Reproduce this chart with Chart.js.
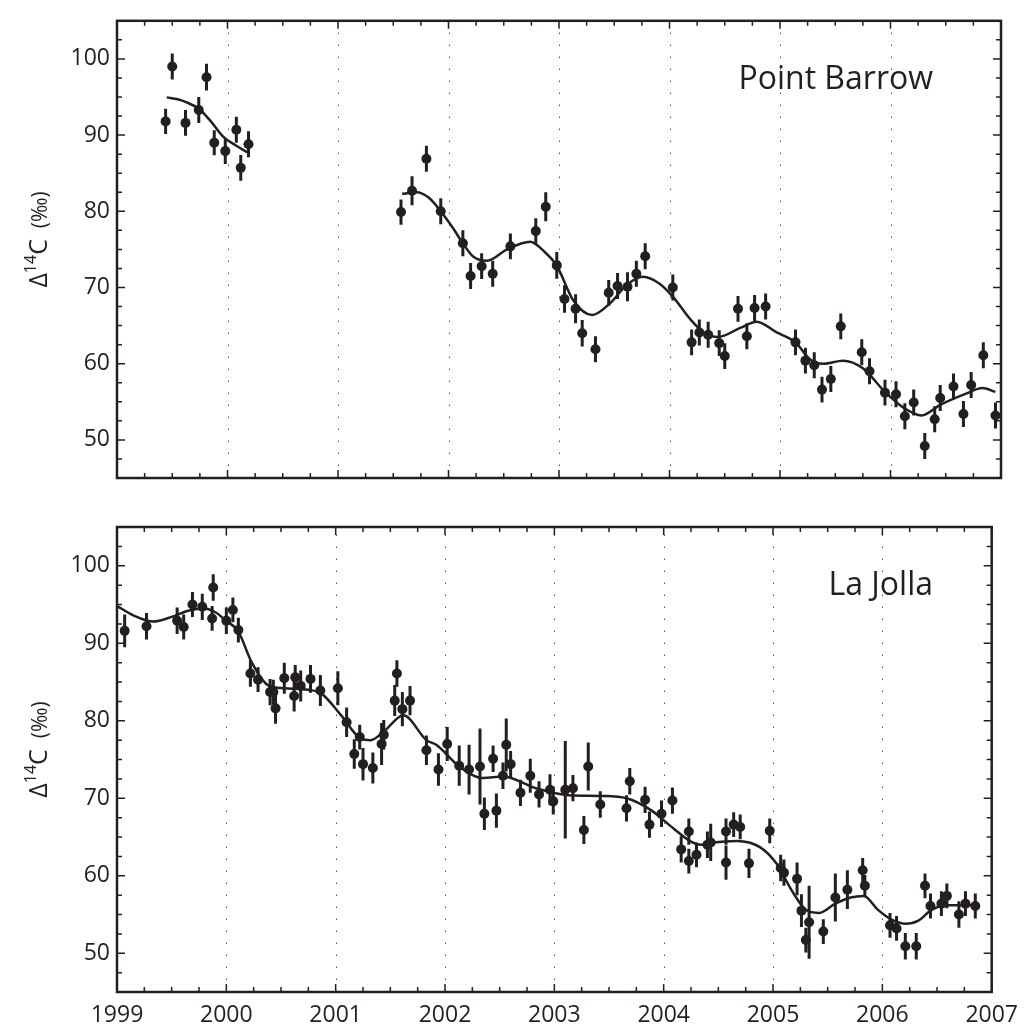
<!DOCTYPE html>
<html>
<head>
<meta charset="utf-8">
<script src="https://cdn.jsdelivr.net/npm/chart.js@4.4.1/dist/chart.umd.min.js"></script>
<style>
  body { margin: 0; background: #fff; }
  #wrap { position: relative; width: 1028px; height: 1029px; }
  #wrap canvas { position: absolute; left: 0; }
</style>
</head>
<body>
<div id="wrap">
  <canvas id="barrow" width="1028" height="500" style="top:0"></canvas>
  <canvas id="jolla" width="1028" height="529" style="top:500px"></canvas>
</div>
<script>
var INK = '#231f20';
Chart.defaults.font.family = "'Open Sans', 'DejaVu Sans', sans-serif";
Chart.defaults.color = INK;

// axis ticks
var yearTicks = [1999, 2000, 2001, 2002, 2003, 2004, 2005, 2006, 2007];
var d14cTicks = [50, 60, 70, 80, 90, 100];

// Point Barrow flask measurements (year, D14C permil, 1-sigma)
var pbYear = [1999.44, 1999.50, 1999.62, 1999.74, 1999.81, 1999.88, 1999.98, 2000.08, 2000.12, 2000.19,
  2001.57, 2001.67, 2001.80, 2001.93, 2002.13, 2002.20, 2002.30, 2002.40, 2002.56, 2002.79,
  2002.88, 2002.98, 2003.05, 2003.15, 2003.21, 2003.33, 2003.45, 2003.53, 2003.62, 2003.70,
  2003.78, 2004.03, 2004.20, 2004.27, 2004.35, 2004.45, 2004.50, 2004.62, 2004.70, 2004.77,
  2004.87, 2005.14, 2005.23, 2005.31, 2005.38, 2005.46, 2005.55, 2005.74, 2005.81, 2005.95,
  2006.05, 2006.13, 2006.21, 2006.31, 2006.40, 2006.45, 2006.57, 2006.66, 2006.73, 2006.84,
  2006.95];
var pbD14C = [91.8, 99.0, 91.6, 93.3, 97.6, 89.0, 87.9, 90.7, 85.7, 88.8,
  79.9, 82.7, 86.9, 80.0, 75.8, 71.5, 72.8, 71.8, 75.4, 77.4,
  80.6, 72.9, 68.5, 67.2, 64.0, 61.9, 69.3, 70.2, 70.1, 71.8,
  74.1, 70.0, 62.8, 64.1, 63.8, 62.7, 61.0, 67.2, 63.6, 67.3,
  67.5, 62.8, 60.4, 59.8, 56.6, 58.0, 64.9, 61.5, 59.0, 56.2,
  56.0, 53.1, 54.9, 49.2, 52.7, 55.5, 57.0, 53.4, 57.2, 61.1,
  53.2];
var pbErr = [1.65, 1.7, 1.7, 1.7, 1.75, 1.65, 1.7, 1.7, 1.7, 1.7,
  1.65, 1.9, 1.7, 1.7, 1.7, 1.7, 1.7, 1.7, 1.7, 1.7,
  1.9, 1.75, 1.8, 1.9, 1.75, 1.7, 1.7, 1.7, 1.9, 1.7,
  1.7, 1.7, 1.7, 1.7, 1.7, 1.7, 1.7, 1.7, 1.7, 1.7,
  1.7, 1.7, 1.7, 1.7, 1.7, 1.7, 1.7, 1.7, 1.7, 1.7,
  1.7, 1.7, 1.7, 1.7, 1.7, 1.7, 1.7, 1.7, 1.7, 1.7,
  1.7];
// smooth fit, two record segments
var pbFitYearA = [1999.45, 1999.55, 1999.63, 1999.74, 1999.84, 1999.96, 2000.08, 2000.19];
var pbFitA = [94.95, 94.7, 94.3, 93.45, 91.96, 89.8, 88.6, 87.66];
var pbFitYearB = [2001.58, 2001.71, 2001.82, 2001.93, 2002.04, 2002.13, 2002.22, 2002.35, 2002.53, 2002.74,
  2002.86, 2002.98, 2003.13, 2003.30, 2003.46, 2003.61, 2003.76, 2003.91, 2004.03, 2004.19,
  2004.31, 2004.44, 2004.64, 2004.79, 2004.97, 2005.14, 2005.27, 2005.39, 2005.57, 2005.75,
  2005.95, 2006.12, 2006.28, 2006.45, 2006.69, 2006.83, 2006.95];
var pbFitB = [82.3, 82.5, 81.8, 80.0, 77.8, 75.8, 74.1, 73.5, 75.0, 76.0,
  74.8, 72.85, 68.3, 66.4, 67.9, 70.3, 71.4, 70.5, 68.8, 65.8,
  64.1, 63.5, 64.7, 65.5, 64.1, 62.8, 60.6, 60.0, 60.4, 59.4,
  56.3, 54.2, 53.2, 54.6, 56.1, 56.8, 56.3];

// La Jolla
var ljYear = [1999.07, 1999.27, 1999.55, 1999.61, 1999.69, 1999.78, 1999.87, 1999.88, 2000.00, 2000.06,
  2000.11, 2000.22, 2000.29, 2000.40, 2000.43, 2000.45, 2000.53, 2000.62, 2000.63, 2000.68,
  2000.77, 2000.86, 2001.02, 2001.10, 2001.17, 2001.22, 2001.25, 2001.34, 2001.42, 2001.44,
  2001.54, 2001.56, 2001.61, 2001.68, 2001.83, 2001.94, 2002.02, 2002.13, 2002.22, 2002.32,
  2002.36, 2002.44, 2002.47, 2002.53, 2002.56, 2002.60, 2002.69, 2002.78, 2002.86, 2002.96,
  2002.99, 2003.10, 2003.17, 2003.27, 2003.31, 2003.42, 2003.66, 2003.69, 2003.83, 2003.87,
  2003.98, 2004.08, 2004.16, 2004.23, 2004.23, 2004.30, 2004.40, 2004.43, 2004.57, 2004.57,
  2004.64, 2004.70, 2004.78, 2004.97, 2005.07, 2005.10, 2005.22, 2005.26, 2005.30, 2005.33,
  2005.46, 2005.57, 2005.68, 2005.82, 2005.84, 2006.07, 2006.13, 2006.21, 2006.31, 2006.39,
  2006.44, 2006.54, 2006.59, 2006.70, 2006.76, 2006.85];
var ljD14C = [91.6, 92.2, 92.9, 92.1, 95.0, 94.7, 93.2, 97.2, 92.9, 94.3,
  91.7, 86.1, 85.3, 83.7, 83.7, 81.6, 85.5, 83.2, 85.6, 84.5,
  85.4, 83.9, 84.2, 79.8, 75.7, 77.9, 74.4, 73.9, 77.0, 78.2,
  82.6, 86.1, 81.5, 82.6, 76.2, 73.7, 77.0, 74.2, 73.7, 74.1,
  68.0, 75.1, 68.4, 72.9, 76.9, 74.4, 70.7, 72.9, 70.5, 71.1,
  69.6, 71.1, 71.3, 65.9, 74.1, 69.2, 68.7, 72.2, 69.8, 66.6,
  68.0, 69.7, 63.4, 65.7, 61.9, 62.7, 64.0, 64.3, 65.7, 61.7,
  66.6, 66.3, 61.6, 65.8, 61.0, 60.4, 59.6, 55.5, 51.7, 54.0,
  52.8, 57.2, 58.2, 60.7, 58.7, 53.6, 53.2, 50.9, 50.9, 58.7,
  56.1, 56.4, 57.4, 55.0, 56.4, 56.1];
var ljErr = [2.1, 1.7, 1.7, 1.6, 1.6, 1.7, 1.6, 1.7, 1.7, 1.6,
  1.6, 1.7, 1.6, 1.7, 1.6, 2.0, 2.0, 2.0, 1.6, 2.0,
  1.8, 2.0, 2.2, 1.9, 1.9, 1.6, 2.1, 2.0, 2.7, 1.9,
  2.0, 1.7, 2.2, 1.9, 1.9, 2.1, 2.2, 2.6, 3.2, 4.9,
  2.1, 1.7, 2.2, 1.7, 3.4, 1.7, 1.7, 2.2, 1.7, 2.0,
  1.7, 6.3, 1.7, 1.8, 3.1, 1.7, 1.7, 1.7, 1.7, 1.7,
  1.7, 1.7, 1.7, 1.7, 1.6, 1.6, 1.7, 2.4, 1.7, 2.2,
  1.6, 1.6, 1.9, 1.6, 1.7, 1.7, 2.1, 2.1, 1.6, 4.7,
  1.6, 3.1, 2.5, 1.6, 1.4, 1.6, 1.6, 1.7, 1.7, 1.6,
  1.6, 1.6, 1.6, 1.7, 1.6, 1.6];
var ljFitYear = [1999.00, 1999.15, 1999.33, 1999.50, 1999.65, 1999.80, 1999.90, 1999.99, 2000.11, 2000.23,
  2000.38, 2000.53, 2000.75, 2000.87, 2001.05, 2001.23, 2001.32, 2001.44, 2001.62, 2001.83,
  2001.92, 2002.13, 2002.35, 2002.53, 2002.83, 2003.13, 2003.43, 2003.66, 2003.88, 2004.09,
  2004.25, 2004.34, 2004.45, 2004.67, 2004.88, 2005.03, 2005.18, 2005.30, 2005.42, 2005.57,
  2005.71, 2005.83, 2005.96, 2006.09, 2006.21, 2006.33, 2006.45, 2006.60, 2006.87];
var ljFit = [94.8, 93.6, 92.8, 93.4, 94.2, 94.5, 94.0, 93.0, 91.5, 87.6,
  84.6, 84.2, 84.0, 83.5, 80.7, 77.7, 77.5, 78.6, 80.7, 77.5,
  76.9, 74.1, 72.6, 72.8, 71.3, 70.4, 70.3, 70.0, 68.5, 66.1,
  64.4, 64.0, 64.3, 64.5, 63.7, 61.6, 57.9, 55.6, 55.2, 56.4,
  57.2, 57.4, 55.6, 54.3, 53.8, 54.2, 55.6, 56.2, 56.2];

function pairs(xs, ys) {
  return xs.map(function (x, i) { return { x: x, y: ys[i] }; });
}

// vertical error bars for every dataset carrying an `errors` array
var errorBars = {
  id: 'errorBars',
  beforeDatasetsDraw: function (chart) {
    var ys = chart.scales.y, ctx = chart.ctx;
    ctx.save();
    ctx.strokeStyle = INK;
    ctx.lineWidth = 3;
    chart.data.datasets.forEach(function (ds, di) {
      if (!ds.errors) return;
      var meta = chart.getDatasetMeta(di);
      ctx.beginPath();
      ds.data.forEach(function (p, i) {
        var px = meta.data[i].x;
        ctx.moveTo(px, ys.getPixelForValue(p.y - ds.errors[i]));
        ctx.lineTo(px, ys.getPixelForValue(p.y + ds.errors[i]));
      });
      ctx.stroke();
    });
    ctx.restore();
  }
};

function drawYTitle(ctx, cx, cy) {
  var parts = [
    { t: '\u0394', font: "25px 'Open Sans'", dy: 0 },
    { t: '14', font: "16px 'Open Sans'", dy: -11 },
    { t: 'C', font: "25px 'Open Sans'", dy: 0 },
    { t: '  (\u2030)', font: "21px 'Open Sans'", dy: 0 }
  ];
  ctx.save();
  ctx.translate(cx, cy);
  ctx.rotate(-Math.PI / 2);
  ctx.fillStyle = INK;
  ctx.textAlign = 'left';
  ctx.textBaseline = 'alphabetic';
  var total = 0;
  parts.forEach(function (p) { ctx.font = p.font; p.w = ctx.measureText(p.t).width; total += p.w; });
  var x = -total / 2;
  parts.forEach(function (p) { ctx.font = p.font; ctx.fillText(p.t, x, p.dy); x += p.w; });
  ctx.restore();
}

// box frame, inward ticks on all sides, dotted year lines, panel name
var frame = {
  id: 'frame',
  beforeDatasetsDraw: function (chart) {
    var a = chart.chartArea, xs = chart.scales.x, ctx = chart.ctx;
    ctx.save();
    ctx.strokeStyle = '#555';
    ctx.lineWidth = 1;
    ctx.setLineDash([1.5, 10.5]);
    yearTicks.slice(1, -1).forEach(function (yr) {
      var px = Math.round(xs.getPixelForValue(yr)) + 0.5;
      ctx.beginPath();
      ctx.moveTo(px, a.bottom);
      ctx.lineTo(px, a.top);
      ctx.stroke();
    });
    ctx.restore();
  },
  afterDraw: function (chart, args, opts) {
    var a = chart.chartArea, xs = chart.scales.x, ys = chart.scales.y, ctx = chart.ctx;
    var q, v, px, py, len;
    ctx.save();
    ctx.strokeStyle = INK;
    ctx.lineWidth = 1.5;
    ctx.beginPath();
    for (q = 0; q <= 32; q++) {
      px = xs.getPixelForValue(1999 + q / 4);
      len = q % 4 === 0 ? 8 : 5;
      ctx.moveTo(px, a.bottom); ctx.lineTo(px, a.bottom - len);
      ctx.moveTo(px, a.top); ctx.lineTo(px, a.top + len);
    }
    for (q = 0; q <= 24; q++) {
      v = 45 + q * 2.5;
      py = ys.getPixelForValue(v);
      len = v % 10 === 0 ? 8 : 5;
      ctx.moveTo(a.left, py); ctx.lineTo(a.left + len, py);
      ctx.moveTo(a.right, py); ctx.lineTo(a.right - len, py);
    }
    ctx.stroke();
    ctx.lineWidth = 2.5;
    ctx.strokeRect(a.left, a.top, a.right - a.left, a.bottom - a.top);

    ctx.fillStyle = INK;
    ctx.font = "32px 'Open Sans'";
    ctx.textAlign = 'right';
    ctx.textBaseline = 'alphabetic';
    ctx.fillText(opts.label, 933, a.top + 68);
    drawYTitle(ctx, 47, (a.top + a.bottom) / 2 - 10);
    ctx.restore();
  }
};

function makePanel(id, label, fits, years, vals, errs, showYears) {
  var datasets = fits.map(function (f) {
    return {
      type: 'scatter',
      data: pairs(f[0], f[1]),
      showLine: true,
      borderColor: INK,
      borderWidth: 2.5,
      pointRadius: 0,
      cubicInterpolationMode: 'monotone'
    };
  });
  datasets.push({
    type: 'scatter',
    data: pairs(years, vals),
    errors: errs,
    backgroundColor: INK,
    borderColor: INK,
    pointRadius: 5,
    borderWidth: 0
  });
  var canvas = document.getElementById(id);
  return new Chart(canvas.getContext('2d'), {
    type: 'scatter',
    data: { datasets: datasets },
    plugins: [frame, errorBars],
    options: {
      responsive: false,
      animation: false,
      devicePixelRatio: 1,
      layout: { padding: { top: showYears ? 27 : 12, right: 27, left: 0, bottom: 0 } },
      plugins: {
        legend: { display: false },
        tooltip: { enabled: false },
        frame: { label: label }
      },
      scales: {
        x: {
          type: 'linear',
          min: 1999,
          max: 2007,
          grid: { display: false, drawTicks: false },
          border: { display: false },
          afterBuildTicks: function (s) { s.ticks = yearTicks.map(function (v) { return { value: v }; }); },
          afterFit: function (s) { s.height = showYears ? 37 : 22; },
          ticks: {
            display: showYears,
            padding: 10,
            maxRotation: 0,
            font: { size: 23 },
            color: INK,
            callback: function (v) { return String(v); }
          }
        },
        y: {
          min: 45,
          max: 105,
          grid: { display: false, drawTicks: false },
          border: { display: false },
          afterBuildTicks: function (s) { s.ticks = d14cTicks.map(function (v) { return { value: v }; }); },
          afterFit: function (s) { s.width = 117; },
          ticks: { padding: 7, font: { size: 23 }, color: INK }
        }
      }
    }
  });
}

makePanel('barrow', 'Point Barrow',
  [[pbFitYearA, pbFitA], [pbFitYearB, pbFitB]],
  pbYear, pbD14C, pbErr, false);
makePanel('jolla', 'La Jolla',
  [[ljFitYear, ljFit]],
  ljYear, ljD14C, ljErr, true);
</script>
</body>
</html>
